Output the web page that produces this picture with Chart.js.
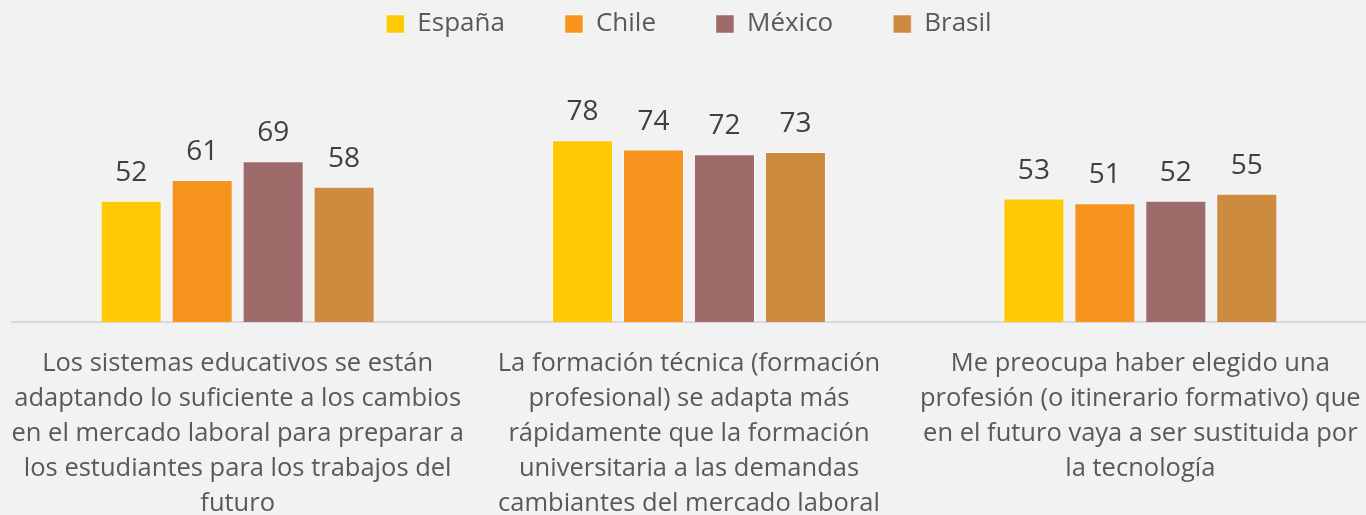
<!DOCTYPE html>
<html>
<head>
<meta charset="utf-8">
<script src="https://cdn.jsdelivr.net/npm/chart.js@4.4.1/dist/chart.umd.min.js"></script>
<style>
  html,body{margin:0;padding:0;background:#f2f2f2;}
  #wrap{width:1366px;height:515px;position:relative;}
</style>
</head>
<body>
<div id="wrap"><canvas id="c"></canvas></div>
<script>
// data
const categories = [
  ['Los sistemas educativos se están','adaptando lo suficiente a los cambios','en el mercado laboral para preparar a','los estudiantes para los trabajos del','futuro'],
  ['La formación técnica (formación','profesional) se adapta más','rápidamente que la formación','universitaria a las demandas','cambiantes del mercado laboral'],
  ['Me preocupa haber elegido una','profesión (o itinerario formativo) que','en el futuro vaya a ser sustituida por','la tecnología']
];
const espana = [52, 78, 53];
const chile = [61, 74, 51];
const mexico = [69, 72, 52];
const brasil = [58, 73, 55];
const countries = ['España', 'Chile', 'México', 'Brasil'];
const colors = ['#ffc906', '#f7941e', '#9e6a6a', '#cd8b40'];

const FONT = '"Open Sans", sans-serif';
const LEGEND_PAD = 60;
const LEGEND_SIZE = 26;

// value labels on top of the bars
const valueLabels = {
  id: 'valueLabels',
  afterDatasetsDraw(chart) {
    const ctx = chart.ctx;
    ctx.save();
    ctx.font = '28px ' + FONT;
    ctx.fillStyle = '#404040';
    ctx.textAlign = 'center';
    ctx.textBaseline = 'alphabetic';
    chart.data.datasets.forEach((ds, i) => {
      chart.getDatasetMeta(i).data.forEach((bar, j) => {
        ctx.fillText(ds.data[j], bar.x, bar.y - 20);
      });
    });
    ctx.restore();
  }
};

// pull the legend up to the top edge (keeps the wide gaps between items)
const legendUp = {
  id: 'legendUp',
  afterLayout(chart) {
    const lg = chart.legend;
    const dy = 24 - (lg.top + LEGEND_PAD + LEGEND_SIZE / 2);
    lg.top += dy;
    lg.bottom += dy;
  }
};

const series = [espana, chile, mexico, brasil];
new Chart(document.getElementById('c'), {
  type: 'bar',
  data: {
    labels: categories,
    datasets: series.map((d, i) => ({
      label: countries[i],
      data: d,
      backgroundColor: colors[i],
      borderColor: 'rgba(255,255,255,0.45)',
      borderWidth: 1,
      categoryPercentage: 0.629,
      barPercentage: 0.86
    }))
  },
  options: {
    responsive: true,
    maintainAspectRatio: false,
    animation: false,
    layout: { padding: { left: 12, right: 0, top: 0, bottom: 0 } },
    plugins: {
      legend: {
        position: 'top',
        labels: {
          boxWidth: 18, boxHeight: 18,
          padding: LEGEND_PAD,
          color: '#595959',
          font: { family: FONT, size: LEGEND_SIZE }
        }
      },
      tooltip: { enabled: false }
    },
    scales: {
      x: {
        grid: { display: false },
        border: { display: true, color: '#d9d9d9', width: 2 },
        ticks: {
          color: '#595959',
          font: { family: FONT, size: 25.5, lineHeight: 1.373 },
          padding: 16,
          maxRotation: 0, autoSkip: false
        },
        afterFit(scale) {
          scale.height = 193;
          scale.paddingLeft = 0;
          scale.paddingRight = 0;
        }
      },
      y: {
        display: false,
        min: 0, max: 97
      }
    }
  },
  plugins: [valueLabels, legendUp]
});
</script>
</body>
</html>
